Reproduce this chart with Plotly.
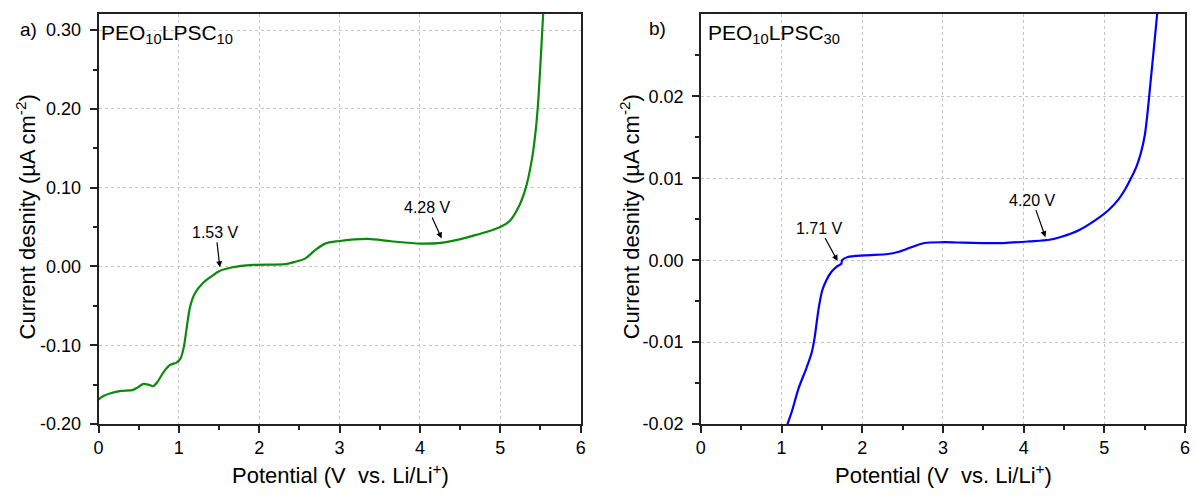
import plotly.graph_objects as go

# ---------------- data ----------------
pot_a = [0.00, 0.05, 0.15, 0.28, 0.42, 0.48, 0.56, 0.62, 0.68, 0.73, 0.81, 0.89, 0.97,
         1.02, 1.06, 1.10, 1.14, 1.20, 1.30, 1.40, 1.50, 1.67, 1.92, 2.33, 2.45, 2.57,
         2.70, 2.82, 2.98, 3.35, 3.64, 4.01, 4.26, 4.59, 5.00, 5.12, 5.24, 5.30, 5.35,
         5.40, 5.44, 5.47, 5.50, 5.52, 5.54]
cur_a = [-0.169, -0.165, -0.161, -0.158, -0.157, -0.154, -0.149, -0.150, -0.152, -0.147,
         -0.134, -0.125, -0.122, -0.117, -0.103, -0.076, -0.051, -0.034, -0.021, -0.013,
         -0.006, -0.001, 0.002, 0.003, 0.006, 0.010, 0.021, 0.029, 0.032, 0.035, 0.032,
         0.029, 0.030, 0.037, 0.050, 0.058, 0.078, 0.094, 0.113, 0.140, 0.172, 0.207,
         0.258, 0.295, 0.332]

pot_b = [1.05, 1.074, 1.127, 1.209, 1.311, 1.373, 1.406, 1.434, 1.463, 1.504, 1.557,
         1.619, 1.680, 1.742, 1.75, 1.82, 2.03, 2.32, 2.44, 2.60, 2.77, 3.01, 3.25, 3.50,
         3.75, 4.07, 4.32, 4.48, 4.69, 4.89, 5.05, 5.18, 5.26, 5.33, 5.40, 5.45, 5.50,
         5.535, 5.57, 5.61, 5.655, 5.67]
cur_b = [-0.0208, -0.0200, -0.0185, -0.0157, -0.0131, -0.0113, -0.0097, -0.0077,
         -0.0057, -0.0037, -0.0024, -0.0014, -0.0008, -0.0004, 0.0000, 0.0004, 0.0006,
         0.00076, 0.0010, 0.00155, 0.0021, 0.0022, 0.00215, 0.0021, 0.0021, 0.0023,
         0.0025, 0.0029, 0.0037, 0.0049, 0.0061, 0.0075, 0.0087, 0.0100, 0.0115, 0.0130,
         0.0152, 0.0180, 0.0215, 0.0255, 0.0301, 0.0318]

x_ticks = [0, 1, 2, 3, 4, 5, 6]
x_ticktext = ["0", "1", "2", "3", "4", "5", "6"]
x_minor = [0.5, 1.5, 2.5, 3.5, 4.5, 5.5]

ya_ticks = [-0.20, -0.10, 0.00, 0.10, 0.20, 0.30]
ya_ticktext = ["-0.20", "-0.10", "0.00", "0.10", "0.20", "0.30"]
ya_minor = [-0.15, -0.05, 0.05, 0.15, 0.25]

yb_ticks = [-0.02, -0.01, 0.00, 0.01, 0.02]
yb_ticktext = ["-0.02", "-0.01", "0.00", "0.01", "0.02"]
yb_minor = [-0.015, -0.005, 0.005, 0.015, 0.025]

marks_a = [(1.51, -0.001, "1.53 V", -4, -35), (4.27, 0.0356, "4.28 V", -14, -31)]
marks_b = [(1.695, -0.0001, "1.71 V", -18, -33), (4.27, 0.00282, "4.20 V", -13, -37)]

FONT = "Liberation Sans, Arial, sans-serif"
W, H = 1196, 500

fig = go.Figure()
fig.add_trace(go.Scatter(x=pot_a, y=cur_a, mode="lines", xaxis="x", yaxis="y",
                         line=dict(color="#0a8a0a", width=2.2, shape="spline", smoothing=0.8),
                         showlegend=False))
fig.add_trace(go.Scatter(x=pot_b, y=cur_b, mode="lines", xaxis="x2", yaxis="y2",
                         line=dict(color="#0000ff", width=2.2, shape="spline", smoothing=0.8),
                         showlegend=False))

ydom = [(H - 432.7) / H, (H - 14) / H]

common = dict(ticks="outside", ticklen=7, tickwidth=1.5, tickcolor="#222",
              showline=True, linecolor="#222", linewidth=1.6, mirror=True,
              showgrid=True, gridcolor="#c4c4c4", griddash="dot", gridwidth=1,
              zeroline=False,
              tickfont=dict(family=FONT, size=18, color="black"))

def xax(domain, anchor):
    return dict(domain=domain, anchor=anchor, range=[0, 6], tickmode="array",
                tickvals=x_ticks, ticktext=x_ticktext, ticklabelstandoff=0,
                minor=dict(tickmode="array", tickvals=x_minor, ticks="outside", ticklen=4,
                           tickwidth=1.5, tickcolor="#222", showgrid=False),
                **common)

def yax(rng, tv, tt, mv, anchor):
    return dict(domain=ydom, anchor=anchor, range=rng, tickmode="array",
                tickvals=tv, ticktext=tt, ticklabelstandoff=5,
                minor=dict(tickmode="array", tickvals=mv, ticks="outside", ticklen=4,
                           tickwidth=1.5, tickcolor="#222", showgrid=False),
                **common)

fig.update_layout(
    width=W, height=H, autosize=False,
    margin=dict(l=0, r=0, t=0, b=0),
    paper_bgcolor="white", plot_bgcolor="white",
    font=dict(family=FONT, color="black"),
    xaxis=xax([94.3 / W, 580.5 / W], "y"),
    yaxis=yax([-0.2, 0.3208], ya_ticks, ya_ticktext, ya_minor, "x"),
    xaxis2=xax([701.7 / W, 1190 / W], "y2"),
    yaxis2=yax([-0.02, 0.0301], yb_ticks, yb_ticktext, yb_minor, "x2"),
)

ann = []
for (x, y, t, ax, ay) in marks_a:
    ann.append(dict(x=x, y=y, xref="x", yref="y", text=t, showarrow=True, ax=ax, ay=ay,
                    arrowhead=2, arrowsize=1, arrowwidth=1.2, arrowcolor="black",
                    font=dict(family=FONT, size=16)))
for (x, y, t, ax, ay) in marks_b:
    ann.append(dict(x=x, y=y, xref="x2", yref="y2", text=t, showarrow=True, ax=ax, ay=ay,
                    arrowhead=2, arrowsize=1, arrowwidth=1.2, arrowcolor="black",
                    font=dict(family=FONT, size=16)))

def pa(text, px, py, size, xanchor="center", yanchor="middle", angle=0):
    return dict(text=text, x=px / W, y=1 - py / H, xref="paper", yref="paper",
                showarrow=False, xanchor=xanchor, yanchor=yanchor, textangle=angle,
                font=dict(family=FONT, size=size, color="black"))

ann += [
    pa("a)", 24, 30, 19),
    pa("b)", 658, 29, 19),
    pa("PEO<sub>10</sub>LPSC<sub>10</sub>", 95, 35, 21, xanchor="left"),
    pa("PEO<sub>10</sub>LPSC<sub>30</sub>", 707, 35, 21, xanchor="left"),
    pa("Current desnity (\u00b5A cm<sup>-2</sup>)", 21, 221, 22, angle=-90),
    pa("Current desnity (\u00b5A cm<sup>-2</sup>)", 630, 221, 22, angle=-90),
    pa("Potential (V\u00a0 vs. Li/Li<sup>+</sup>)", 338, 500, 22, yanchor="bottom"),
    pa("Potential (V\u00a0 vs. Li/Li<sup>+</sup>)", 946, 500, 22, yanchor="bottom"),
]
fig.update_layout(annotations=ann)

fig.write_html("out.html")
